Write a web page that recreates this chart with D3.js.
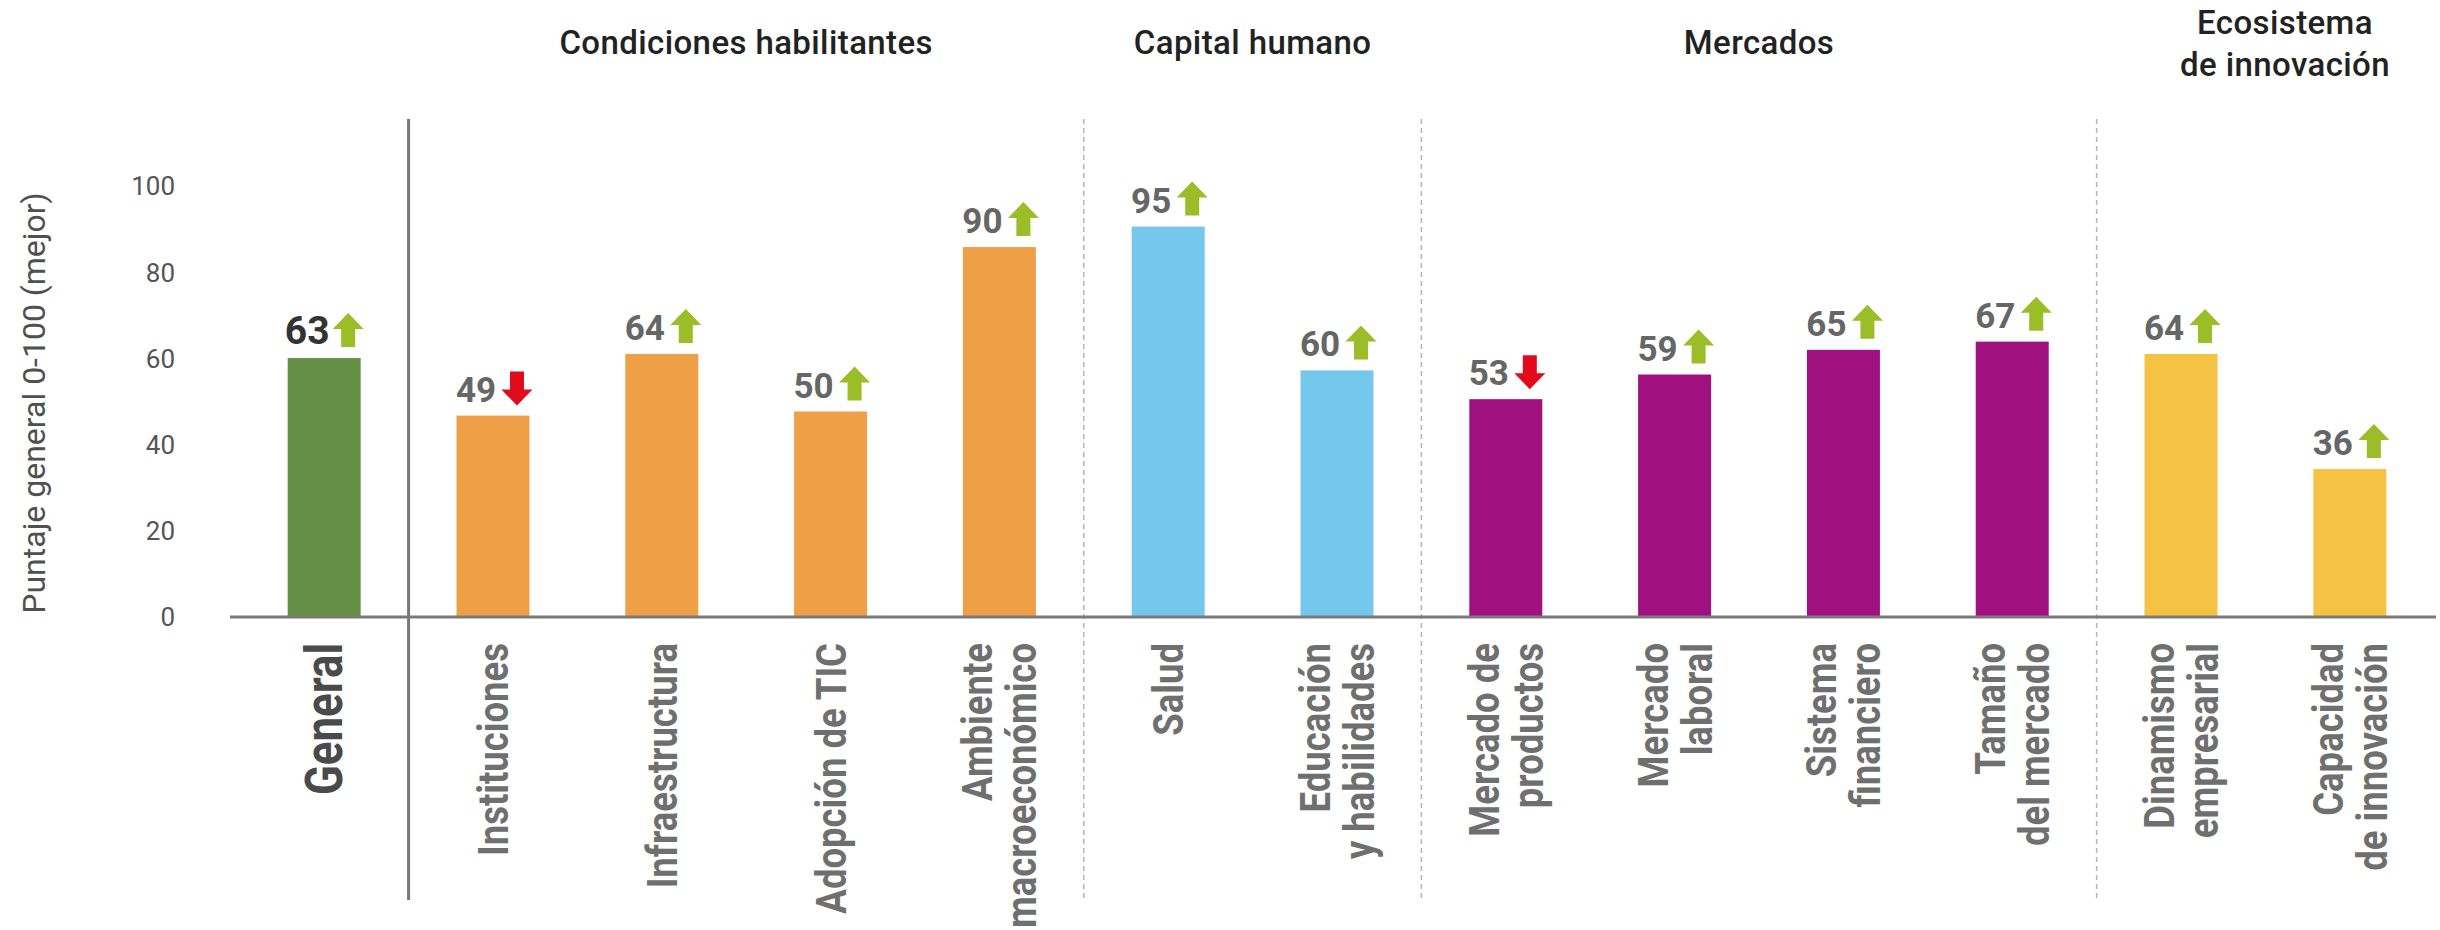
<!DOCTYPE html>
<html>
<head>
<meta charset="utf-8">
<script src="https://cdn.jsdelivr.net/npm/d3@7"></script>
<style>
  body { margin: 0; background: #fff; }
  svg { display: block; }
</style>
</head>
<body>
<div id="chart"></div>
<script>
const width = 2440;
const height = 930;

// data
const categories = ["General", "Instituciones", "Infraestructura", "Adopción de TIC", "Ambiente macroeconómico",
    "Salud", "Educación y habilidades", "Mercado de productos", "Mercado laboral", "Sistema financiero",
    "Tamaño del mercado", "Dinamismo empresarial", "Capacidad de innovación"];
const labelLines = [["General"], ["Instituciones"], ["Infraestructura"], ["Adopción de TIC"], ["Ambiente", "macroeconómico"],
    ["Salud"], ["Educación", "y habilidades"], ["Mercado de", "productos"], ["Mercado", "laboral"], ["Sistema", "financiero"],
    ["Tamaño", "del mercado"], ["Dinamismo", "empresarial"], ["Capacidad", "de innovación"]];
const scores = [63, 49, 64, 50, 90, 95, 60, 53, 59, 65, 67, 64, 36];
const trend = ["up", "down", "up", "up", "up", "up", "up", "down", "up", "up", "up", "up", "up"];
const pillar = ["General", "Condiciones habilitantes", "Condiciones habilitantes", "Condiciones habilitantes", "Condiciones habilitantes",
    "Capital humano", "Capital humano", "Mercados", "Mercados", "Mercados", "Mercados",
    "Ecosistema de innovación", "Ecosistema de innovación"];
const pillarNames = ["General", "Condiciones habilitantes", "Capital humano", "Mercados", "Ecosistema de innovación"];
const pillarTitles = [[], ["Condiciones habilitantes"], ["Capital humano"], ["Mercados"], ["Ecosistema", "de innovación"]];
const pillarColors = ["#668f46", "#efa046", "#76c7ec", "#a0107e", "#f6c244"];
const yTicks = [0, 20, 40, 60, 80, 100];

const data = categories.map((c, i) => ({
    name: c, lines: labelLines[i], value: scores[i], trend: trend[i], pillar: pillar[i]
}));

const sans = "Roboto, 'Liberation Sans', sans-serif";
const baseY = 617;

//scales
const xScale = d3.scaleBand().domain(categories).range([235, 2439]).paddingInner(0.5675).paddingOuter(0.312);
const yScale = d3.scaleLinear().domain([0, 100]).range([baseY, 206]);
// tick labels in the original sit on a slightly taller ruler than the bars
const yTickScale = d3.scaleLinear().domain([0, 100]).range([baseY, 186]);
const colorScale = d3.scaleOrdinal().domain(pillarNames).range(pillarColors);

const cx = d => xScale(d.name) + xScale.bandwidth() / 2;

const svg = d3.select("#chart").append("svg").attr("width", width).attr("height", height);

// separators between pillars
const separators = [];
for (let i = 1; i < data.length; i++) {
    if (data[i].pillar !== data[i - 1].pillar) {
        separators.push({ x: (cx(data[i - 1]) + cx(data[i])) / 2, solid: data[i - 1].pillar === "General" });
    }
}
svg.selectAll("line.sep")
    .data(separators)
    .join("line")
    .attr("class", "sep")
    .attr("x1", d => d.x).attr("x2", d => d.x)
    .attr("y1", 119).attr("y2", 900)
    .attr("stroke", d => d.solid ? "#777" : "#b4b4b4")
    .attr("stroke-width", d => d.solid ? 3 : 1.5)
    .attr("stroke-dasharray", d => d.solid ? null : "5,4");

// bars
svg.selectAll("rect.bar")
    .data(data)
    .join("rect")
    .attr("class", "bar")
    .attr("x", d => xScale(d.name))
    .attr("width", xScale.bandwidth())
    .attr("y", d => yScale(d.value))
    .attr("height", d => yScale(0) - yScale(d.value))
    .attr("fill", d => colorScale(d.pillar));

// x baseline
svg.append("line")
    .attr("x1", 230).attr("x2", 2436)
    .attr("y1", baseY).attr("y2", baseY)
    .attr("stroke", "#7a7a7a")
    .attr("stroke-width", 3);

// y tick labels
svg.selectAll("text.ytick")
    .data(yTicks)
    .join("text")
    .attr("class", "ytick")
    .attr("x", 175)
    .attr("y", d => yTickScale(d))
    .attr("dy", "0.36em")
    .attr("text-anchor", "end")
    .style("font-family", sans)
    .style("font-size", "26px")
    .style("fill", "#555")
    .text(d => d);

svg.append("text")
    .attr("transform", "translate(45,403) rotate(-90)")
    .attr("text-anchor", "middle")
    .style("font-family", sans)
    .style("font-size", "32px")
    .style("fill", "#505050")
    .text("Puntaje general 0-100 (mejor)");

// value labels
const labelGap = 14;
svg.selectAll("text.value")
    .data(data)
    .join("text")
    .attr("class", "value")
    .attr("x", d => cx(d) - 17)
    .attr("y", d => yScale(d.value) - labelGap)
    .attr("text-anchor", "middle")
    .style("font-family", sans)
    .style("font-weight", "bold")
    .style("font-size", d => d.pillar === "General" ? "39px" : "35px")
    .style("fill", d => d.pillar === "General" ? "#333" : "#666")
    .text(d => d.value);

// trend arrows (drawn pointing up, flipped for "down")
const arrowPath = "M0,-34 L15.5,-18 L7,-18 L7,0 L-7,0 L-7,-18 L-15.5,-18 Z";
svg.selectAll("path.arrow")
    .data(data)
    .join("path")
    .attr("class", "arrow")
    .attr("d", arrowPath)
    .attr("transform", d => {
        const base = yScale(d.value) - labelGap;
        return d.trend === "up"
            ? `translate(${cx(d) + 24},${base + 3})`
            : `translate(${cx(d) + 24},${base - 30}) scale(1,-1)`;
    })
    .attr("fill", d => d.trend === "up" ? "#9bbd28" : "#e10b1c");

// category labels (rotated, squeezed to a condensed look)
const lineH = 44;
const catLabels = svg.selectAll("text.cat")
    .data(data)
    .join("text")
    .attr("class", "cat")
    .attr("text-anchor", "end")
    .style("font-family", sans)
    .style("font-weight", "bold")
    .style("font-size", d => d.pillar === "General" ? "51px" : "42px")
    .style("fill", d => d.pillar === "General" ? "#4a4a4a" : "#6f6f6f");

catLabels.selectAll("tspan")
    .data(d => d.lines.map((l, i) => ({ text: l, i: i, n: d.lines.length, big: d.pillar === "General" })))
    .join("tspan")
    .attr("x", 0)
    .attr("y", d => (d.big ? 18 : 15) + (d.i - (d.n - 1) / 2) * lineH)
    .text(d => d.text);

// reference lengths: "Instituciones" ~213px, "General" ~152px
const lenOf = name => catLabels.filter(d => d.name === name).select("tspan").node().getComputedTextLength();
const squeezeSmall = 213 / lenOf("Instituciones");
const squeezeBig = 152 / lenOf("General");
catLabels.attr("transform", d =>
    `translate(${cx(d)},643) rotate(-90) scale(${d.pillar === "General" ? squeezeBig : squeezeSmall},1)`);

// pillar titles
const titleData = pillarNames.map((p, i) => {
    const members = data.filter(d => d.pillar === p);
    return { lines: pillarTitles[i], center: d3.mean(members, cx) };
}).filter(d => d.lines.length);

const titles = svg.selectAll("text.title")
    .data(titleData)
    .join("text")
    .attr("class", "title")
    .attr("text-anchor", "middle")
    .style("font-family", sans)
    .style("font-weight", 500)
    .style("font-size", "33px")
    .style("letter-spacing", "0.4px")
    .style("fill", "#222");

titles.selectAll("tspan")
    .data(d => d.lines.map((l, i) => ({ text: l, i: i, n: d.lines.length })))
    .join("tspan")
    .attr("y", d => d.n === 1 ? 54 : 34 + d.i * 42)
    .text(d => d.text);

// the last title is pushed against the right margin, as in the original
titles.each(function (d) {
    const w = d3.max(d3.select(this).selectAll("tspan").nodes(), n => n.getComputedTextLength());
    const x = d.lines.length > 1 ? width - 50 - w / 2 : d.center;
    d3.select(this).selectAll("tspan").attr("x", x);
});
</script>
</body>
</html>
